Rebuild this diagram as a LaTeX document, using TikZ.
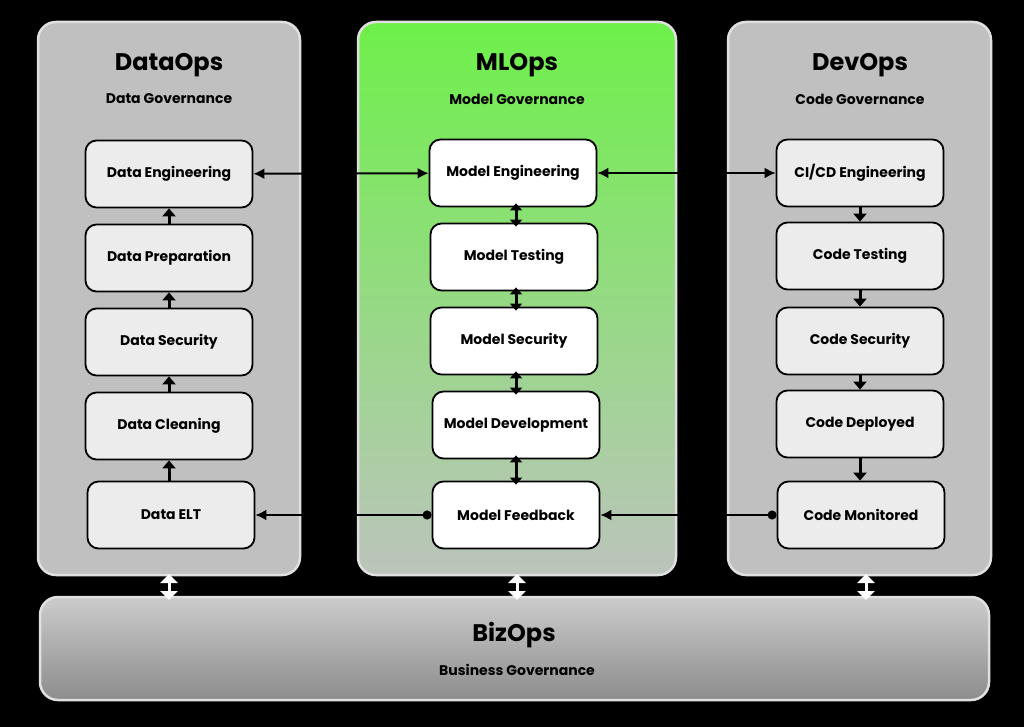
\documentclass[tikz,border=0pt]{standalone}
\usepackage{fontspec}
\setmainfont{Poppins}
\usetikzlibrary{arrows.meta,positioning}
\definecolor{panelgray}{HTML}{C0C0C0}
\definecolor{boxgray}{HTML}{ECECEC}
\definecolor{mlgreen}{HTML}{6EF04A}
\definecolor{mlgray}{HTML}{BCC4BC}
\tikzset{
  panel/.style={draw=white!88!black,line width=2.5pt,rounded corners=18pt,fill=panelgray},
  stage/.style={draw=black,line width=1.8pt,rounded corners=11pt,fill=boxgray,minimum width=167pt,minimum height=67pt,font=\bfseries\fontsize{14}{16}\selectfont},
  flow/.style={line width=2pt,-{Latex[length=11pt,width=11pt]}},
  stub/.style={line width=3pt,-{Triangle[length=8pt,width=13pt]}},
  both/.style={line width=3pt,shorten <=-4pt,shorten >=-4pt,{Triangle[length=7pt,width=12pt]}-{Triangle[length=7pt,width=12pt]}},
  title/.style={font=\bfseries\fontsize{24}{28}\selectfont},
  sub/.style={font=\bfseries\fontsize{14}{16}\selectfont},
}
\begin{document}
\begin{tikzpicture}[x=1pt,y=-1pt]
\fill[black] (0,0) rectangle (1024,727);
\useasboundingbox (0,0) rectangle (1024,727);
% panels
\draw[panel] (38,22) rectangle (300,575);
\draw[panel,fill=none,top color=mlgreen,bottom color=mlgray] (358,22) rectangle (676,575);
\draw[panel] (728,22) rectangle (991,575);
\draw[panel,fill=none,top color=white!80!black,bottom color=white!55!black] (40,597) rectangle (989,700);
\node[title] at (169,65) {DataOps};
\node[sub] at (169,99) {Data Governance};
\node[title] at (517,65) {MLOps};
\node[sub] at (517,99) {Model Governance};
\node[title] at (860,65) {DevOps};
\node[sub] at (860,99) {Code Governance};
\node[title] at (514,635) {BizOps};
\node[sub] at (517,670) {Business Governance};
% DataOps
\node[stage] (deng) at (169,174) {Data Engineering};
\node[stage] (dprep) at (169,258) {Data Preparation};
\node[stage] (dsec) at (169,342) {Data Security};
\node[stage] (dclean) at (169,426) {Data Cleaning};
\node[stage] (delt) at (171,515) {Data ELT};
% MLOps
\node[stage,fill=white] (meng) at (513,173) {Model Engineering};
\node[stage,fill=white] (mtest) at (514,257) {Model Testing};
\node[stage,fill=white] (msec) at (514,341) {Model Security};
\node[stage,fill=white] (mdev) at (516,425) {Model Development};
\node[stage,fill=white] (mfeed) at (516,515) {Model Feedback};
% DevOps
\node[stage] (ceng) at (860,173) {CI/CD Engineering};
\node[stage] (ctest) at (860,256) {Code Testing};
\node[stage] (csec) at (860,341) {Code Security};
\node[stage] (cdep) at (860,424) {Code Deployed};
\node[stage] (cmon) at (861,515) {Code Monitored};
% flows
\draw[stub] (dprep) -- (deng);
\draw[stub] (dsec) -- (dprep);
\draw[stub] (dclean) -- (dsec);
\draw[stub] (delt.north -| dclean) -- (dclean);
\foreach \a/\b in {meng/mtest,mtest/msec,msec/mdev,mdev/mfeed}
  \draw[both] (\a.south -| mdev) -- (\b.north -| mdev);
\draw[stub] (ceng) -- (ctest);
\draw[stub] (ctest) -- (csec);
\draw[stub] (csec) -- (cdep);
\draw[stub] (cdep) -- (cmon.north -| cdep);
\draw[flow,{Latex[length=11pt,width=11pt]}-{Latex[length=11pt,width=11pt]}] (deng) -- (meng);
\draw[flow,{Latex[length=11pt,width=11pt]}-{Latex[length=11pt,width=11pt]}] (meng) -- (ceng);
\draw[flow,{Circle[length=9pt]}-{Latex[length=11pt,width=11pt]}] (mfeed.west) -- (delt.east);
\draw[flow,{Circle[length=9pt]}-{Latex[length=11pt,width=11pt]}] (cmon.west) -- (mfeed.east);
% business links
\foreach \x in {169,517,866}
  \draw[white,line width=3pt,{Triangle[length=9pt,width=17pt]}-{Triangle[length=9pt,width=17pt]}] (\x,574) -- (\x,600);
\end{tikzpicture}
\end{document}
